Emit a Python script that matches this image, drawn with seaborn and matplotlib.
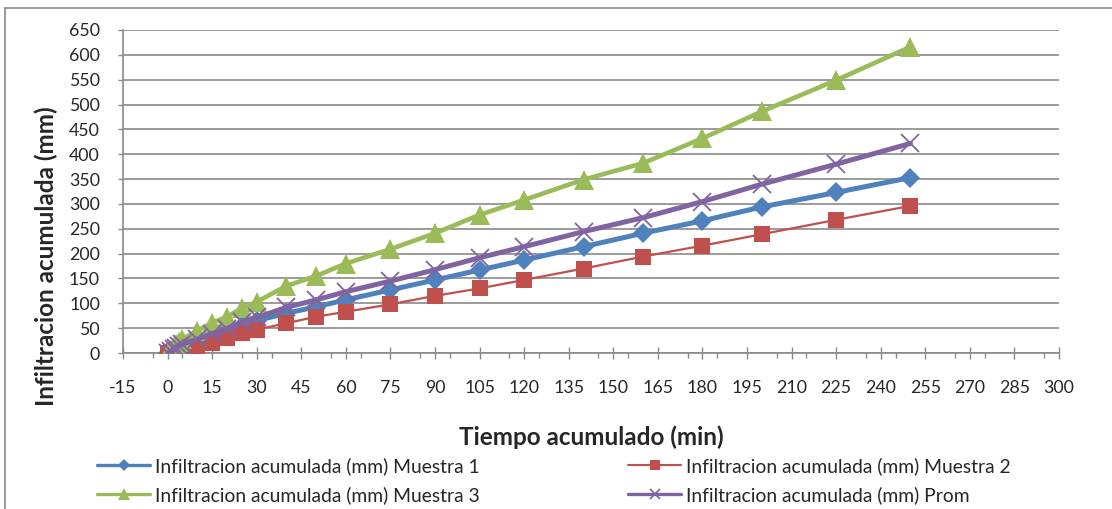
import matplotlib
matplotlib.use("Agg")
import matplotlib.pyplot as plt
from matplotlib.ticker import MultipleLocator
from matplotlib.lines import Line2D
import seaborn as sns
import pandas as pd

# ---- data ----
tiempo = [0, 1, 2, 3, 4, 5, 10, 15, 20, 25, 30, 40, 50, 60, 75, 90, 105, 120, 140, 160, 180, 200, 225, 250]
muestra1 = [0, 3, 6, 9, 12, 15, 25, 35, 45, 55, 65, 80, 93, 107, 127, 147, 167, 187, 214, 241, 266, 294, 323, 353]
muestra2 = [0, 2, 4, 6, 8, 10, 14, 21, 30, 40, 47, 60, 73, 83, 98, 115, 130, 147, 170, 194, 216, 239, 268, 296]
muestra3 = [0, 6, 12, 18, 23, 28, 45, 61, 73, 90, 103, 135, 155, 180, 209, 241, 278, 308, 349, 382, 432, 486, 549, 616]
prom = [0, 3.7, 7.3, 11, 14.3, 17.7, 28, 39, 49.3, 61.7, 71.7, 91.7, 107, 123.3, 144.7, 167.7, 191.7, 214, 244.3, 272.3, 304.7, 339.7, 380, 421.7]
labels = ["Infiltracion acumulada (mm) Muestra 1",
          "Infiltracion acumulada (mm) Muestra 2",
          "Infiltracion acumulada (mm) Muestra 3",
          "Infiltracion acumulada (mm) Prom"]
xticks_step = 15
yticks_step = 50

sns.set_style("white")
plt.rcParams['font.family'] = ['Lato', 'DejaVu Sans']
plt.rcParams['axes.unicode_minus'] = False

W, H = 1112, 509
fig = plt.figure(figsize=(W / 100, H / 100), dpi=100)
L, R, T, B = 123, 1059, 30, 353
ax = fig.add_axes([L / W, 1 - B / H, (R - L) / W, (B - T) / H])

df = pd.DataFrame({"t": tiempo, "m1": muestra1, "m2": muestra2, "m3": muestra3, "p": prom})

c1, c2, c3, c4 = "#4F81BD", "#C0504D", "#9BBB59", "#8064A2"
sns.lineplot(data=df, x="t", y="m1", ax=ax, color=c1, lw=3.6, marker="D", ms=10,
             mec=c1, mew=0, zorder=3)
sns.lineplot(data=df, x="t", y="m2", ax=ax, color=c2, lw=1.6, marker="s", ms=11,
             mec=c2, mew=0, zorder=3)
sns.lineplot(data=df, x="t", y="m3", ax=ax, color=c3, lw=3.3, marker="^", ms=14,
             mec=c3, mew=0, zorder=3)
sns.lineplot(data=df, x="t", y="p", ax=ax, color=c4, lw=3.6, marker="x", ms=13,
             mec=c4, mew=1.3, zorder=3)

grid_c = "#8a8a8a"
ax.set_xlim(-15, 300)
ax.set_ylim(0, 650)
ax.xaxis.set_major_locator(MultipleLocator(xticks_step))
ax.xaxis.set_minor_locator(MultipleLocator(10, offset=5))
ax.yaxis.set_major_locator(MultipleLocator(yticks_step))
ax.grid(axis="y", color=grid_c, lw=1.2)
ax.grid(axis="x", visible=False)
ax.set_axisbelow(True)
for s in ["top", "right"]:
    ax.spines[s].set_visible(False)
for s in ["left", "bottom"]:
    ax.spines[s].set_color(grid_c)
    ax.spines[s].set_linewidth(1.2)
ax.tick_params(axis="x", which="major", direction="inout", length=8.5, width=1,
               color=grid_c, labelsize=12.8, pad=15, bottom=True)
ax.tick_params(axis="x", which="minor", direction="out", length=3.6, width=1,
               color=grid_c, bottom=True)
ax.tick_params(axis="y", which="major", direction="out", length=3.6, width=1,
               color=grid_c, labelsize=12.8, pad=13, left=True)
ax.set_xlabel("")
ax.set_ylabel("")

fig.text(591 / W, 1 - 437 / H, "Tiempo acumulado (min)", ha="center", va="center",
         fontsize=17.5, fontweight="bold")
fig.text(46 / W, 1 - 256 / H, "Infiltracion acumulada (mm)", ha="center", va="center",
         rotation=90, fontsize=17.5, fontweight="bold")

def handle(c, m, lw, ms, mew=0):
    return Line2D([0], [0], color=c, lw=lw, marker=m, ms=ms, mec=c, mew=mew)

h1 = handle(c1, "D", 2.4, 6.5)
h2 = handle(c2, "s", 1.5, 7)
h3 = handle(c3, "^", 2.4, 8)
h4 = handle(c4, "x", 2.4, 7, 1.2)

lkw = dict(frameon=False, fontsize=13.9, handlelength=2.75, handletextpad=0.26,
           labelspacing=0.58, borderpad=0, borderaxespad=0, loc="upper left",
           bbox_transform=fig.transFigure)
leg1 = ax.legend([h1, h3], [labels[0], labels[2]], bbox_to_anchor=(97 / W, 1 - 457 / H), **lkw)
ax.add_artist(leg1)
ax.legend([h2, h4], [labels[1], labels[3]], bbox_to_anchor=(628 / W, 1 - 457 / H), **lkw)

frame_c = "#8a8a8a"
fig.add_artist(Line2D([5 / W, 5 / W], [0, 1 - 8 / H], color=frame_c, lw=1.2,
                      transform=fig.transFigure))
fig.add_artist(Line2D([5 / W, 1], [1 - 8 / H, 1 - 8 / H], color=frame_c, lw=1.2,
                      transform=fig.transFigure))

fig.savefig("out.png", dpi=100)
